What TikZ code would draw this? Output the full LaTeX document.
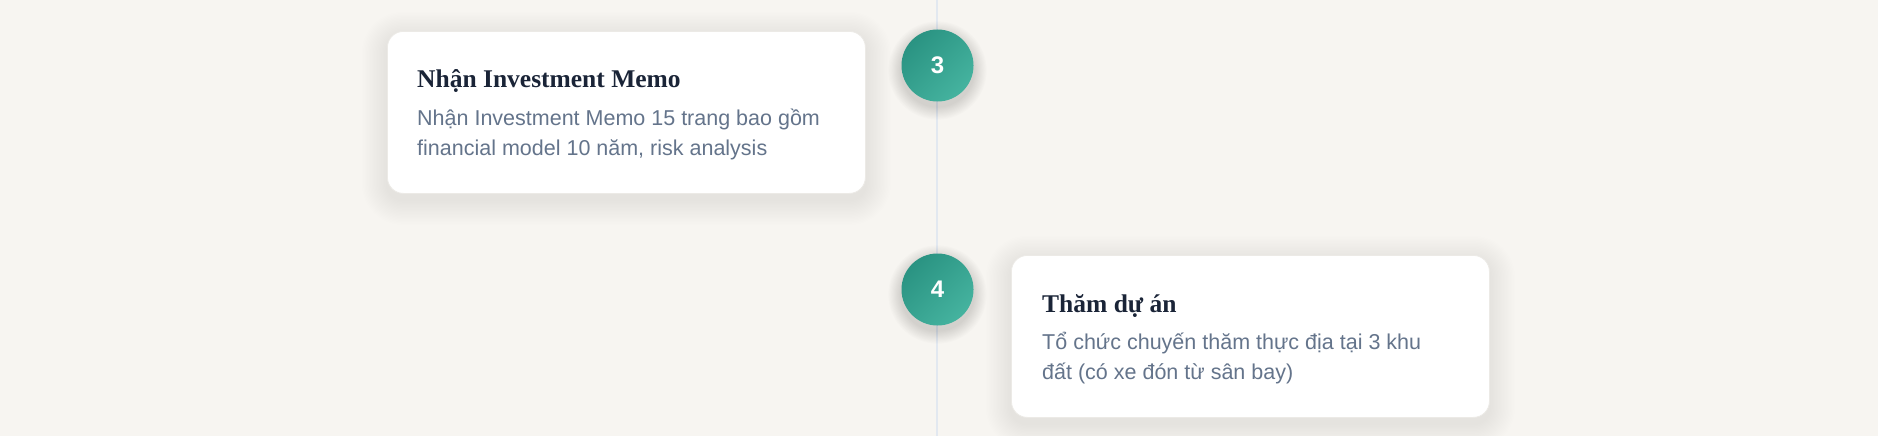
\documentclass[tikz,border=0pt]{standalone}
\usepackage{fontspec}
\setmainfont{Liberation Sans}
\newfontfamily\titlefont{Liberation Serif}
\usetikzlibrary{calc}
\definecolor{bgcol}{HTML}{F7F5F1}
\definecolor{linecol}{HTML}{E2E8F0}
\definecolor{tealdark}{HTML}{2A9382}
\definecolor{teallight}{HTML}{45B39F}
\definecolor{titlecol}{HTML}{1A2437}
\definecolor{bodycol}{HTML}{64748B}
\definecolor{cardborder}{HTML}{ECEAE6}
\tikzset{
  card/.style={draw=cardborder, line width=0.8pt, fill=white, rounded corners=16pt,
    minimum width=478pt, minimum height=162pt, anchor=north west, inner sep=0pt},
  dot/.style={circle, minimum size=72pt, inner sep=0pt, text=white,
    font=\fontsize{24}{24}\selectfont\bfseries,
    top color=tealdark, bottom color=teallight, shading angle=45},
  cardtitle/.style={anchor=base west, inner sep=0pt, text=titlecol,
    font=\titlefont\fontsize{25.5}{25.5}\selectfont\bfseries},
  cardbody/.style={anchor=base west, inner sep=0pt, text=bodycol,
    font=\fontsize{21.5}{30}\selectfont, align=left},
  timeline/.style={draw=linecol, line width=2.4pt},
  shadowlayer/.style={fill=black, fill opacity=0.0045}
}
\newcommand{\cardshadow}[1]{%
  \foreach \r in {1,...,18}{%
    \fill[shadowlayer, rounded corners={16pt+\r*1.4pt}]
      ($(#1.north west)+(-\r*1.4pt,-6pt+\r*1.4pt)$) rectangle ($(#1.south east)+(\r*1.4pt,-6pt-\r*1.4pt)$);
  }}
\newcommand{\dotshadow}[1]{%
  \foreach \r in {1,...,12}{%
    \fill[black, fill opacity=0.011] ($(#1.center)+(0,-5pt)$) circle ({36pt+\r*1.1pt});
  }}
\begin{document}
\begin{tikzpicture}[x=1pt,y=1pt]
\fill[bgcol] (0,0) rectangle (1878,-436);
\useasboundingbox (0,0) rectangle (1878,-436);
\coordinate (ltop) at (937,0);
\coordinate (lbot) at (937,-436);
\draw[timeline] (ltop) -- (lbot);
% invisible card frames used to place the shadows
\path (387,-31) node[card, draw=none, fill=none] (c1) {};
\path (1011,-255) node[card, draw=none, fill=none] (c2) {};
\coordinate (d3c) at (937.5,-65.5);
\coordinate (d4c) at (937.5,-289.5);
\cardshadow{c1}
\cardshadow{c2}
\dotshadow{d3c}
\dotshadow{d4c}
\node[card] (c1b) at (387,-31) {};
\node[card] (c2b) at (1011,-255) {};
% card 1 text
\node[cardtitle] (t1) at (417,-88) {Nhận Investment Memo};
\node[cardbody] (b1) at (417,-155) {Nhận Investment Memo 15 trang bao gồm\\financial model 10 năm, risk analysis};
% card 2 text
\node[cardtitle] (t2) at (1042,-312) {Thăm dự án};
\node[cardbody] (b2) at (1042,-379) {Tổ chức chuyến thăm thực địa tại 3 khu\\đất (có xe đón từ sân bay)};
% dots
\node[dot] (d3) at (d3c) {3};
\node[dot] (d4) at (d4c) {4};
\end{tikzpicture}
\end{document}
